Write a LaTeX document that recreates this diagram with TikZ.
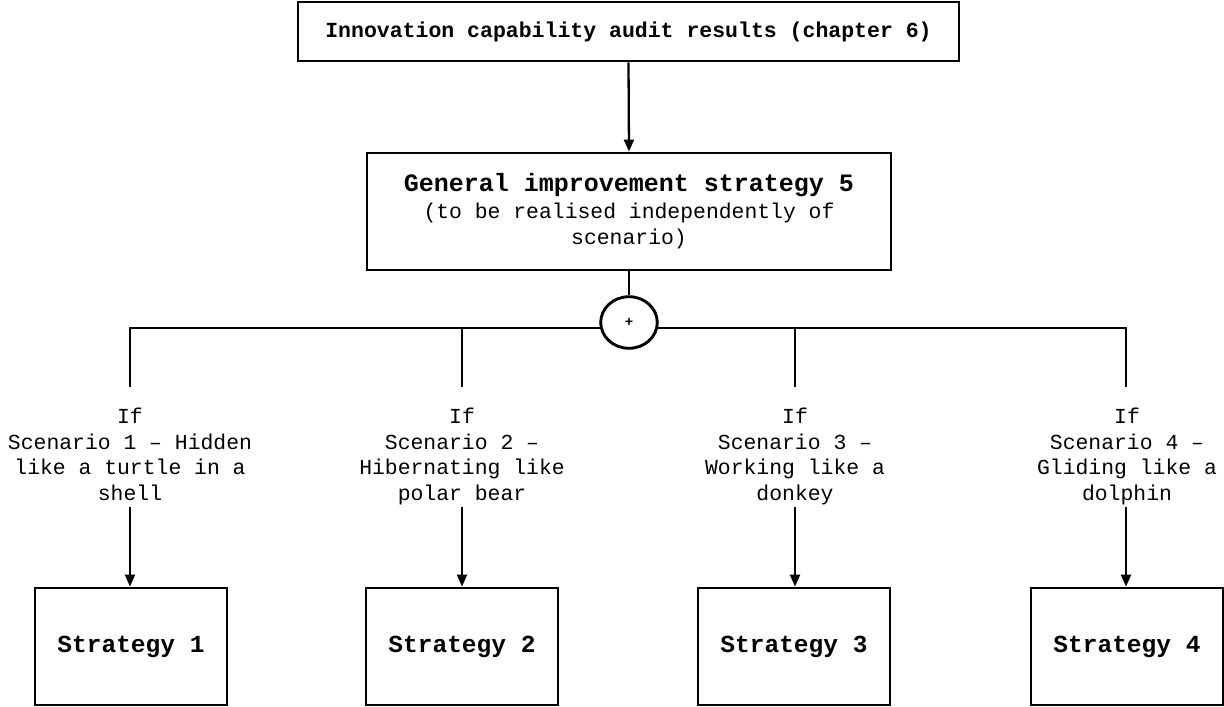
\documentclass[tikz,border=0pt]{standalone}
\usepackage{fontspec}
\newfontfamily\cour{Liberation Mono}
\usetikzlibrary{arrows.meta,shapes.geometric}
\begin{document}
\begin{tikzpicture}[x=1pt,y=-1pt,
  box/.style={draw,line width=2.9pt,inner sep=0pt,align=center},
  stratbox/.style={box,minimum width=192pt,minimum height=117pt,
    font=\cour\bfseries\fontsize{24.5}{27}\selectfont},
  conn/.style={line width=2.3pt},
  arr/.style={conn,-{Triangle[length=12pt,width=10pt]}},
  lab/.style={align=center,inner sep=0pt,anchor=north,
    font=\cour\fontsize{21.4}{25.5}\selectfont},
]
\useasboundingbox (0,0) rectangle (1224,707);

% top and middle boxes
\node[box,minimum width=661pt,minimum height=59pt,
  font=\cour\bfseries\fontsize{21.5}{26}\selectfont] (audit) at (628.5,31.5)
  {Innovation capability audit results (chapter 6)};
\node[box,minimum width=524pt,minimum height=117pt,
  font=\cour\fontsize{21.4}{26.5}\selectfont] (general) at (629,211.5)
  {{\bfseries\fontsize{25}{27}\selectfont General improvement strategy 5}\\
   (to be realised independently of\\ scenario)};

% scenario labels
\node[lab] (lab1) at (130,408) {If\\Scenario 1 – Hidden\\like a turtle in a\\shell};
\node[lab] (lab2) at (462,408) {If\\Scenario 2 –\\Hibernating like\\polar bear};
\node[lab] (lab3) at (795,408) {If\\Scenario 3 –\\Working like a\\donkey};
\node[lab] (lab4) at (1127,408) {If\\Scenario 4 –\\Gliding like a\\dolphin};

% strategy boxes
\node[stratbox] (s1) at (131,646.5) {Strategy 1};
\node[stratbox] (s2) at (462,646.5) {Strategy 2};
\node[stratbox] (s3) at (794,646.5) {Strategy 3};
\node[stratbox] (s4) at (1127,646.5) {Strategy 4};

% branch ends above and below the labels
\coordinate (bus) at (629,328);
\foreach \i/\x in {1/130,2/462,3/795,4/1126}{
  \coordinate (b\i) at (\x,387);
  \coordinate (a\i) at (\x,507);
}

% branching bus
\draw[conn] (b1) |- (bus) -| (b4);
\draw[conn] (b2) -- (b2|-bus);
\draw[conn] (b3) -- (b3|-bus);

% junction
\node[ellipse,draw,line width=2.9pt,fill=white,inner sep=0pt,
  minimum width=56.6pt,minimum height=51.6pt,
  font=\cour\bfseries\fontsize{14}{14}\selectfont] (plus) at (629,322.5) {+};

\draw[arr] (audit.south) -- (general.north);
\draw[conn] (general.south) -- (plus.north);
\foreach \i in {1,2,3,4}{
  \draw[arr] (a\i) -- (a\i|-s\i.north);
}
\end{tikzpicture}
\end{document}
